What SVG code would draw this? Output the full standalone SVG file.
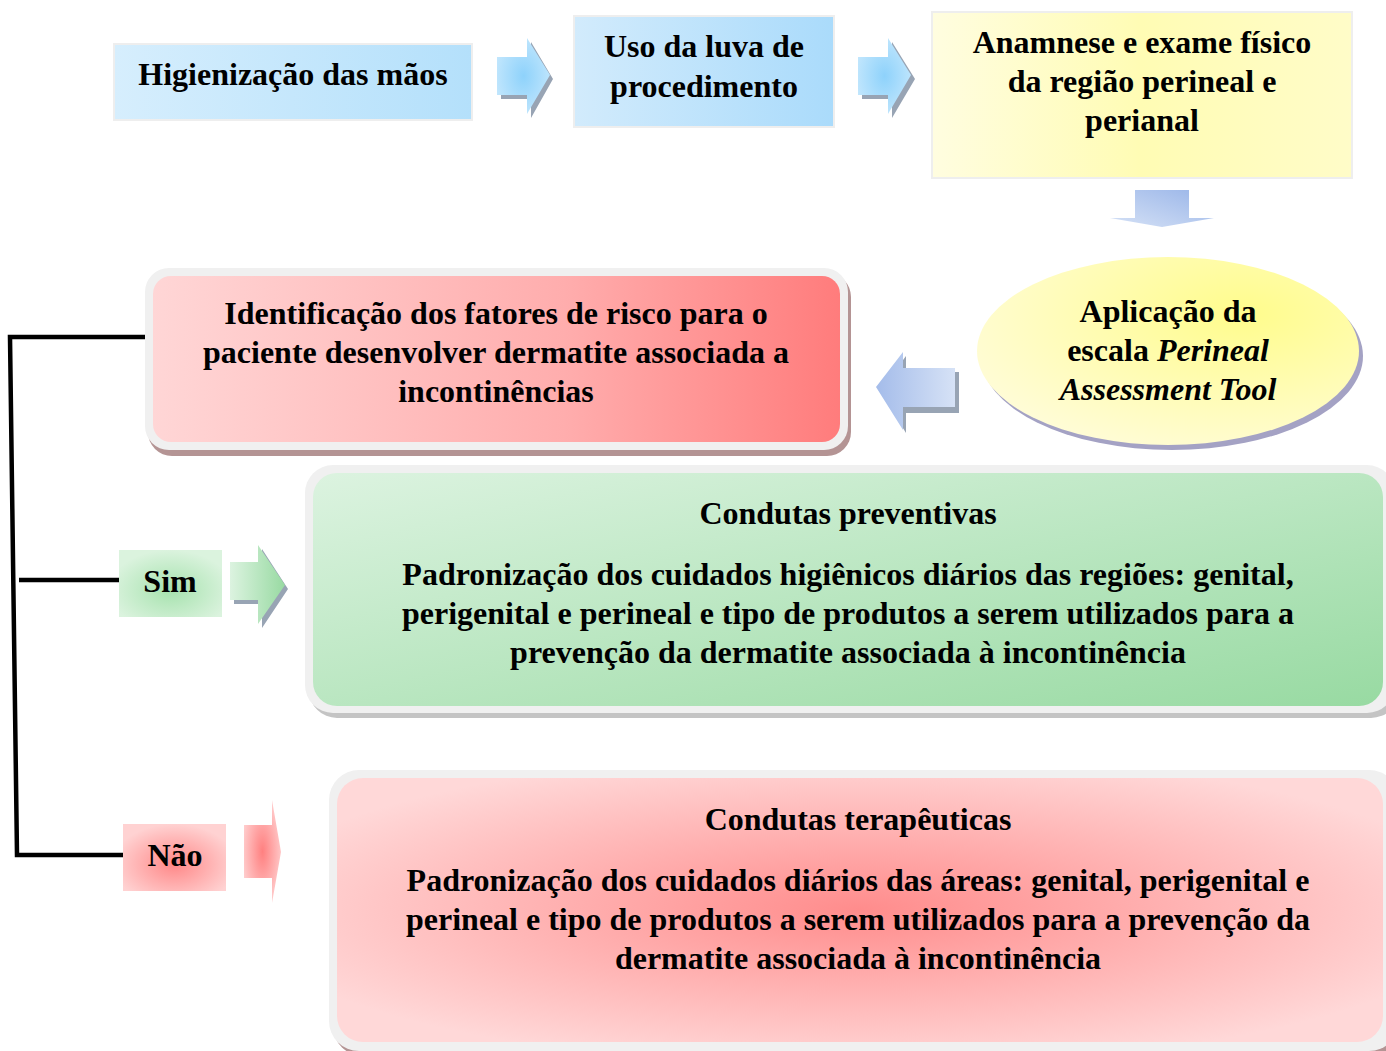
<svg xmlns="http://www.w3.org/2000/svg" width="1386" height="1051" viewBox="0 0 1386 1051">
<defs>
<style>
.t{font-family:"Liberation Serif","Times New Roman",serif;font-weight:bold;font-size:32px;fill:#000;text-anchor:middle}
.it{font-style:italic}
.frame{fill:#f0f0f0}
.sq{stroke:#eeeeee;stroke-width:2}
.conn{fill:none;stroke:#000;stroke-width:4.5}
</style>
<linearGradient id="gBlue" x1="0" y1="0" x2="1" y2="0">
<stop offset="0" stop-color="#d6eefd"/><stop offset="1" stop-color="#b4e0fb"/>
</linearGradient>
<linearGradient id="gBlue2" x1="0" y1="0" x2="1" y2="0">
<stop offset="0" stop-color="#d2ebfc"/><stop offset="1" stop-color="#aadbfb"/>
</linearGradient>
<linearGradient id="gYellow" x1="0" y1="0" x2="1" y2="0">
<stop offset="0" stop-color="#fffde0"/><stop offset="0.5" stop-color="#fffcb4"/><stop offset="1" stop-color="#fffcc8"/>
</linearGradient>
<radialGradient id="gEll" cx="0.7" cy="0.3" r="0.8">
<stop offset="0" stop-color="#fffc8c"/><stop offset="1" stop-color="#fffcd8"/>
</radialGradient>
<linearGradient id="gRed1" x1="0" y1="0" x2="1" y2="0">
<stop offset="0" stop-color="#ffd6d6"/><stop offset="0.6" stop-color="#ffadad"/><stop offset="1" stop-color="#ff7c7c"/>
</linearGradient>
<linearGradient id="gGreen" x1="0" y1="0" x2="1" y2="1">
<stop offset="0" stop-color="#dcf3e0"/><stop offset="1" stop-color="#98daa2"/>
</linearGradient>
<radialGradient id="gRed2" cx="0.5" cy="0.5" r="0.6">
<stop offset="0" stop-color="#ff8c8c"/><stop offset="1" stop-color="#ffd8d8"/>
</radialGradient>
<radialGradient id="gSim" cx="0.5" cy="0.6" r="0.6">
<stop offset="0" stop-color="#a6e2ae"/><stop offset="1" stop-color="#dbf3de"/>
</radialGradient>
<radialGradient id="gNao" cx="0.5" cy="0.6" r="0.6">
<stop offset="0" stop-color="#ff8888"/><stop offset="1" stop-color="#ffd2d2"/>
</radialGradient>
<radialGradient id="gArrB" cx="0.5" cy="0.5" r="0.6">
<stop offset="0" stop-color="#8ed2fb"/><stop offset="1" stop-color="#c6e8fd"/>
</radialGradient>
<linearGradient id="gArrD" x1="0" y1="1" x2="1" y2="0">
<stop offset="0" stop-color="#d6e2f6"/><stop offset="1" stop-color="#98b4e8"/>
</linearGradient>
<linearGradient id="gArrL" x1="0" y1="0.5" x2="1" y2="0.5">
<stop offset="0" stop-color="#a4bcea"/><stop offset="1" stop-color="#d6e2f6"/>
</linearGradient>
<linearGradient id="gArrG" x1="0" y1="0" x2="1" y2="0">
<stop offset="0" stop-color="#dcf3e0"/><stop offset="1" stop-color="#98daa2"/>
</linearGradient>
<radialGradient id="gArrR" cx="0.5" cy="0.5" r="0.6">
<stop offset="0" stop-color="#ff8080"/><stop offset="1" stop-color="#ffd4d4"/>
</radialGradient>
</defs>
<rect width="1386" height="1051" fill="#ffffff"/>

<g id="connectors">
<polyline class="conn" points="145,337 10,337 17,855 123,855"/>
<line class="conn" x1="19" y1="580" x2="119" y2="580"/>
<g id="arrow1">
<polygon points="501,61 531,61 531,42 553,79 531,118 531,99 501,99" fill="#98a4b4"/>
<polygon points="497,57 527,57 527,38 550,75 527,114 527,95 497,95" fill="url(#gArrB)"/>
</g>
<g id="arrow2">
<polygon points="862,61 892,61 892,42 915,79 892,118 892,99 862,99" fill="#98a4b4"/>
<polygon points="858,57 888,57 888,38 911,75 888,114 888,95 858,95" fill="url(#gArrB)"/>
</g>
<g id="arrowDown">
<polygon points="1135,190 1189,190 1189,218 1214,218 1162,227 1110,218 1135,218" fill="url(#gArrD)"/>
</g>
<g id="arrowLeft">
<polygon points="880,391 906,356 906,372 959,372 959,413 906,413 906,433" fill="#98a4b4"/>
<polygon points="876,387 903,352 903,368 955,368 955,407 903,407 903,430" fill="url(#gArrL)"/>
</g>
<g id="arrowSim">
<polygon points="234,566 262,566 262,549 288,589 262,628 262,604 234,604" fill="#98a4b4"/>
<polygon points="230,562 258,562 258,545 285,585 258,624 258,600 230,600" fill="url(#gArrG)"/>
</g>
<g id="arrowNao">
<polygon points="244,825 272,825 272,800 281,852 272,903 272,878 244,878" fill="url(#gArrR)"/>
</g>
</g>

<g id="node-higienizacao">
<rect x="114" y="44" width="358" height="76" fill="url(#gBlue)" class="sq"/>
<text class="t" x="293" y="85">Higienização das mãos</text>
</g>

<g id="node-luva">
<rect x="574" y="16" width="260" height="111" fill="url(#gBlue2)" class="sq"/>
<text class="t" x="704" y="57">Uso da luva de</text>
<text class="t" x="704" y="97">procedimento</text>
</g>

<g id="node-anamnese">
<rect x="932" y="12" width="420" height="166" fill="url(#gYellow)" class="sq"/>
<text class="t" x="1142" y="53">Anamnese e exame físico</text>
<text class="t" x="1142" y="92">da região perineal e</text>
<text class="t" x="1142" y="131">perianal</text>
</g>

<g id="node-escala">
<ellipse cx="1172" cy="356" rx="191" ry="94" fill="#a4a2c4"/>
<ellipse cx="1168" cy="351" rx="191" ry="94" fill="url(#gEll)"/>
<text class="t" x="1168" y="322">Aplicação da</text>
<text class="t" x="1168" y="361">escala <tspan class="it">Perineal</tspan></text>
<text class="t it" x="1168" y="400">Assessment Tool</text>
</g>

<g id="node-identificacao">
<rect x="148" y="273" width="703" height="183" rx="24" fill="#b49494"/>
<rect x="145" y="268" width="703" height="182" rx="24" class="frame"/>
<rect x="153" y="276" width="687" height="166" rx="18" fill="url(#gRed1)"/>
<text class="t" x="496" y="324">Identificação dos fatores de risco para o</text>
<text class="t" x="496" y="363">paciente desenvolver dermatite associada a</text>
<text class="t" x="496" y="402">incontinências</text>
</g>

<g id="node-sim">
<rect x="119" y="550" width="103" height="67" fill="url(#gSim)"/>
<text class="t" x="170" y="592">Sim</text>
</g>

<g id="node-preventivas">
<rect x="309" y="471" width="1090" height="247" rx="28" fill="#c4c4c4"/>
<rect x="305" y="465" width="1090" height="248" rx="28" class="frame"/>
<rect x="313" y="473" width="1070" height="233" rx="24" fill="url(#gGreen)"/>
<text class="t" x="848" y="524">Condutas preventivas</text>
<text class="t" x="848" y="585">Padronização dos cuidados higiênicos diários das regiões: genital,</text>
<text class="t" x="848" y="624">perigenital e perineal e tipo de produtos a serem utilizados para a</text>
<text class="t" x="848" y="663">prevenção da dermatite associada à incontinência</text>
</g>

<g id="node-nao">
<rect x="123" y="824" width="103" height="67" fill="url(#gNao)"/>
<text class="t" x="175" y="866">Não</text>
</g>

<g id="node-terapeuticas">
<rect x="333" y="776" width="1070" height="280" rx="30" fill="#b49494"/>
<rect x="329" y="770" width="1070" height="281" rx="30" class="frame"/>
<rect x="337" y="778" width="1046" height="264" rx="26" fill="url(#gRed2)"/>
<text class="t" x="858" y="830">Condutas terapêuticas</text>
<text class="t" x="858" y="891">Padronização dos cuidados diários das áreas: genital, perigenital e</text>
<text class="t" x="858" y="930">perineal e tipo de produtos a serem utilizados para a prevenção da</text>
<text class="t" x="858" y="969">dermatite associada à incontinência</text>
</g>
</svg>
